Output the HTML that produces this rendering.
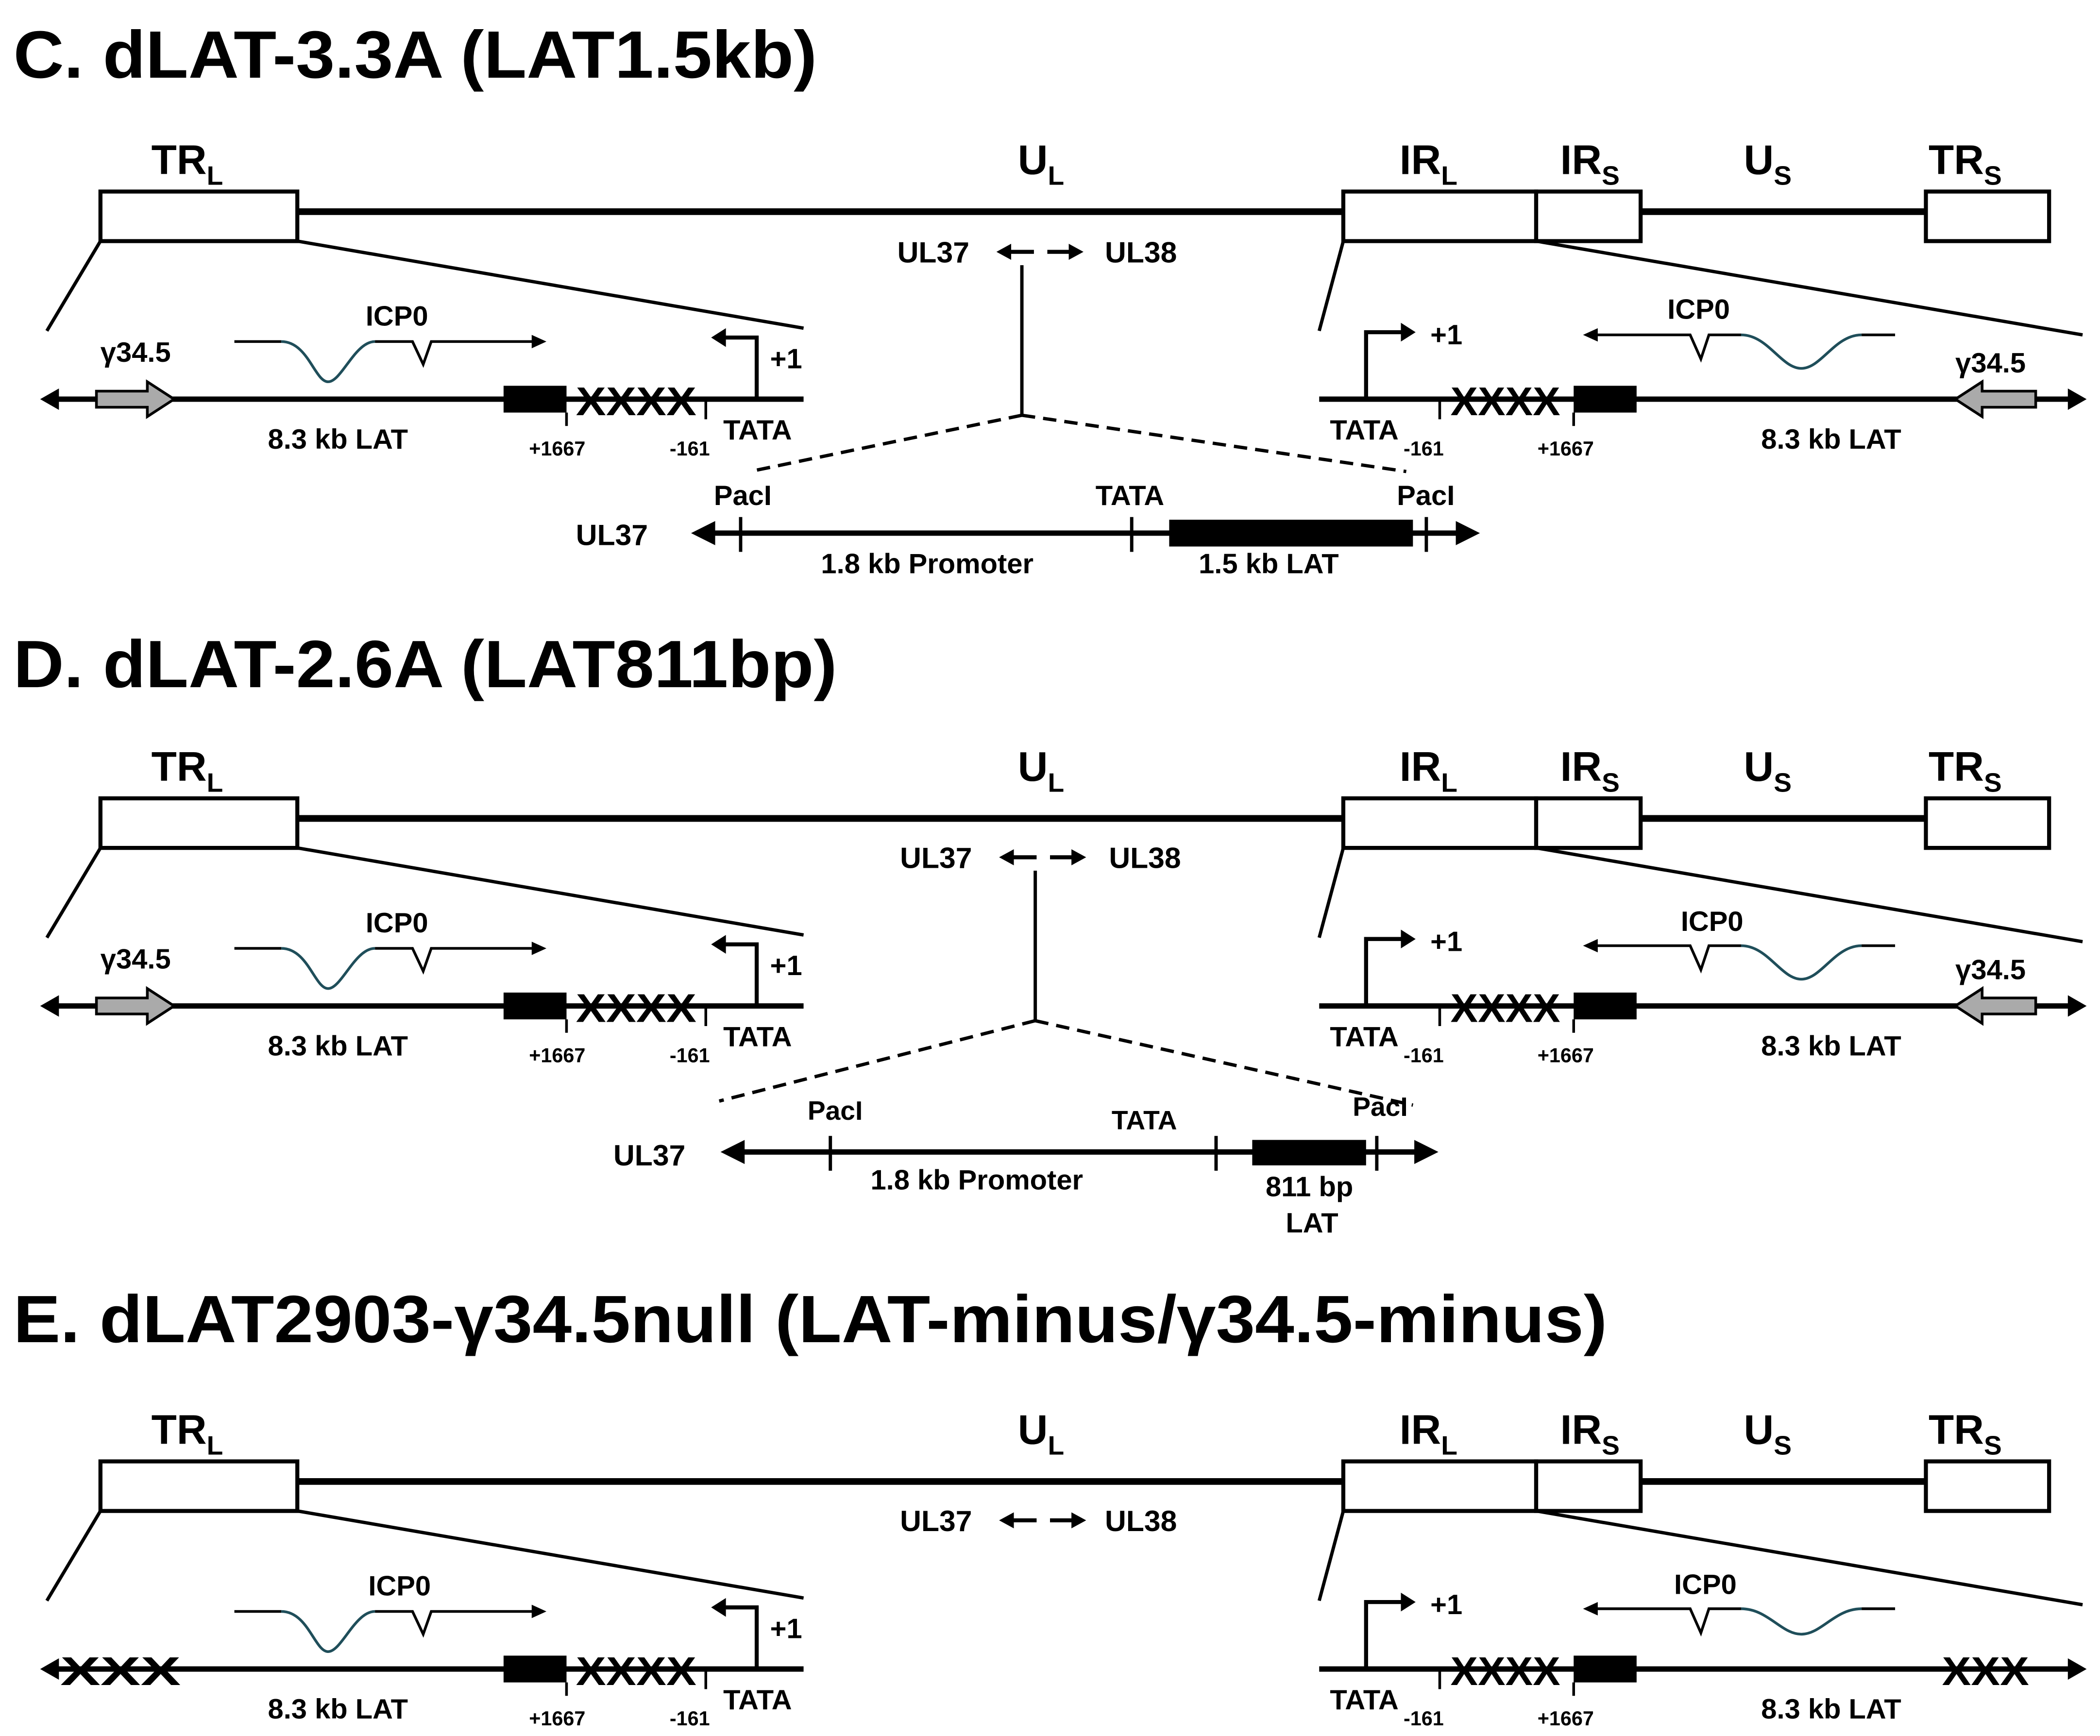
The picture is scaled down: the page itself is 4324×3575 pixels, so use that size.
<!DOCTYPE html>
<html><head><meta charset="utf-8"><style>
html,body{margin:0;padding:0;background:#fff}
svg{display:block}
text{font-family:"Liberation Sans",sans-serif;font-weight:bold;fill:#000}
.t{font-size:50px}.L{font-size:31px}.s{font-size:20px}.m{font-size:21px}.x{font-size:15px}.X{font-size:30px}.u{font-size:22px}
.b{fill:#fff;stroke:#000;stroke-width:3}
.k{stroke:#000;fill:none}
</style></head><body>
<svg width="4324" height="3575" viewBox="0 0 1568 1296" preserveAspectRatio="none" xmlns="http://www.w3.org/2000/svg">
<rect width="1568" height="1296" fill="#fff"/>

<text x="10" y="58" class="t" textLength="600" lengthAdjust="spacingAndGlyphs">C. dLAT-3.3A (LAT1.5kb)</text>
<text x="10" y="513" class="t" textLength="615" lengthAdjust="spacingAndGlyphs">D. dLAT-2.6A (LAT811bp)</text>
<text x="10" y="1002" class="t" textLength="1190" lengthAdjust="spacingAndGlyphs">E. dLAT2903-γ34.5null (LAT-minus/γ34.5-minus)</text>

<!-- ================= SECTION C ================= -->
<g transform="translate(0,0)">
<text x="113" y="130" class="L">TR<tspan class="s" dy="8">L</tspan></text>
<text x="760" y="130" class="L">U<tspan class="s" dy="8">L</tspan></text>
<text x="1045" y="130" class="L">IR<tspan class="s" dy="8">L</tspan></text>
<text x="1165" y="130" class="L">IR<tspan class="s" dy="8">S</tspan></text>
<text x="1302" y="130" class="L">U<tspan class="s" dy="8">S</tspan></text>
<text x="1440" y="130" class="L">TR<tspan class="s" dy="8">S</tspan></text>
<line x1="222" y1="158" x2="1003" y2="158" class="k" stroke-width="5"/>
<line x1="1225" y1="158" x2="1438" y2="158" class="k" stroke-width="5"/>
<rect x="75" y="143" width="147" height="37" class="b"/>
<rect x="1003" y="143" width="144" height="37" class="b"/>
<rect x="1147" y="143" width="78" height="37" class="b"/>
<rect x="1438" y="143" width="92" height="37" class="b"/>
<g class="k" stroke-width="2.5"><line x1="75" y1="180" x2="35" y2="247"/><line x1="222" y1="180" x2="600" y2="245"/><line x1="1003" y1="180" x2="985" y2="247"/><line x1="1147" y1="180" x2="1555" y2="250"/></g>
<text x="670" y="196" class="u">UL37</text><text x="825" y="196" class="u">UL38</text>
<line x1="752" y1="188" x2="772" y2="188" class="k" stroke-width="3"/><polygon points="744,188 755,182 755,194"/>
<line x1="782" y1="188" x2="800" y2="188" class="k" stroke-width="3"/><polygon points="809,188 798,182 798,194"/>
</g>

<g transform="translate(0,0)">
<line x1="40" y1="298" x2="600" y2="298" class="k" stroke-width="4"/><polygon points="30,298 44,290 44,306"/>
<polygon points="72,292 110,292 110,285 130,298 110,311 110,304 72,304" fill="#aaa" stroke="#000" stroke-width="2"/>
<rect x="376" y="288" width="47" height="20"/>
<text x="430" y="310" class="X" textLength="90" lengthAdjust="spacingAndGlyphs">XXXX</text>
<line x1="423" y1="308" x2="423" y2="318" class="k" stroke-width="2"/><line x1="527" y1="298" x2="527" y2="313" class="k" stroke-width="2"/>
<path d="M565,298 V252 H540" class="k" stroke-width="3"/><polygon points="531,252 542,245 542,259"/>
<text x="575" y="275" class="m">+1</text><text x="540" y="328" class="m">TATA</text><text x="500" y="340" class="x">-161</text><text x="395" y="340" class="x">+1667</text>
<text x="200" y="335" class="m">8.3 kb LAT</text><text x="75" y="270" class="m" font-weight="normal">γ34.5</text>
<text x="273" y="243" class="m" font-weight="normal">ICP0</text>
<path d="M175,255 H210" class="k" stroke-width="2"/><path d="M210,255 C230,255 235,285 245,285 C255,285 265,255 280,255" fill="none" stroke="#1f4e5a" stroke-width="2"/>
<path d="M280,255 H308 L316,272 L322,255 H400" class="k" stroke-width="2"/><polygon points="408,255 397,250 397,260"/>
<line x1="985" y1="298" x2="1548" y2="298" class="k" stroke-width="4"/><polygon points="1558,298 1544,290 1544,306"/>
<path d="M1020,298 V248 H1048" class="k" stroke-width="3"/><polygon points="1057,248 1046,241 1046,255"/>
<text x="1068" y="257" class="m">+1</text>
<line x1="1075" y1="298" x2="1075" y2="313" class="k" stroke-width="2"/>
<text x="1083" y="310" class="X" textLength="82" lengthAdjust="spacingAndGlyphs">XXXX</text>
<rect x="1175" y="288" width="47" height="20"/><line x1="1175" y1="308" x2="1175" y2="318" class="k" stroke-width="2"/>
<text x="993" y="328" class="m">TATA</text><text x="1048" y="340" class="x">-161</text><text x="1148" y="340" class="x">+1667</text>
<text x="1315" y="335" class="m">8.3 kb LAT</text><text x="1460" y="278" class="m" font-weight="normal">γ34.5</text>
<polygon points="1460,298 1480,285 1480,292 1520,292 1520,304 1480,304 1480,311" fill="#aaa" stroke="#000" stroke-width="2"/>
<text x="1245" y="238" class="m" font-weight="normal">ICP0</text>
<path d="M1190,250 H1262 L1270,268 L1276,250 H1300" class="k" stroke-width="2"/><polygon points="1182,250 1193,245 1193,255"/>
<path d="M1300,250 C1320,250 1330,275 1345,275 C1360,275 1370,250 1390,250" fill="none" stroke="#1f4e5a" stroke-width="2"/><path d="M1390,250 H1415" class="k" stroke-width="2"/>
</g>
<line x1="763" y1="198" x2="763" y2="310" class="k" stroke-width="2.5"/>
<path d="M763,310 L560,352 M763,310 L1050,352" class="k" stroke-width="2.5" stroke-dasharray="10,6"/>
<text x="430" y="407" class="u">UL37</text>
<line x1="530" y1="398" x2="1090" y2="398" class="k" stroke-width="4"/><polygon points="516,398 534,389 534,407"/><polygon points="1105,398 1087,389 1087,407"/>
<rect x="873" y="388" width="182" height="20"/>
<g class="k" stroke-width="2.5"><line x1="553" y1="386" x2="553" y2="412"/><line x1="845" y1="386" x2="845" y2="412"/><line x1="1065" y1="386" x2="1065" y2="412"/></g>
<text x="533" y="377" class="m">PacI</text><text x="818" y="377" class="m">TATA</text><text x="1043" y="377" class="m">PacI</text>
<text x="613" y="428" class="m">1.8 kb Promoter</text><text x="895" y="428" class="m">1.5 kb LAT</text>

<!-- ================= SECTION D ================= -->
<g transform="translate(0,453)">
<text x="113" y="130" class="L">TR<tspan class="s" dy="8">L</tspan></text>
<text x="760" y="130" class="L">U<tspan class="s" dy="8">L</tspan></text>
<text x="1045" y="130" class="L">IR<tspan class="s" dy="8">L</tspan></text>
<text x="1165" y="130" class="L">IR<tspan class="s" dy="8">S</tspan></text>
<text x="1302" y="130" class="L">U<tspan class="s" dy="8">S</tspan></text>
<text x="1440" y="130" class="L">TR<tspan class="s" dy="8">S</tspan></text>
<line x1="222" y1="158" x2="1003" y2="158" class="k" stroke-width="5"/>
<line x1="1225" y1="158" x2="1438" y2="158" class="k" stroke-width="5"/>
<rect x="75" y="143" width="147" height="37" class="b"/>
<rect x="1003" y="143" width="144" height="37" class="b"/>
<rect x="1147" y="143" width="78" height="37" class="b"/>
<rect x="1438" y="143" width="92" height="37" class="b"/>
<g class="k" stroke-width="2.5"><line x1="75" y1="180" x2="35" y2="247"/><line x1="222" y1="180" x2="600" y2="245"/><line x1="1003" y1="180" x2="985" y2="247"/><line x1="1147" y1="180" x2="1555" y2="250"/></g>
<text x="672" y="195" class="u">UL37</text><text x="828" y="195" class="u">UL38</text>
<line x1="754" y1="187" x2="774" y2="187" class="k" stroke-width="3"/><polygon points="746,187 757,181 757,193"/>
<line x1="784" y1="187" x2="802" y2="187" class="k" stroke-width="3"/><polygon points="811,187 800,181 800,193"/>
<line x1="40" y1="298" x2="600" y2="298" class="k" stroke-width="4"/><polygon points="30,298 44,290 44,306"/>
<polygon points="72,292 110,292 110,285 130,298 110,311 110,304 72,304" fill="#aaa" stroke="#000" stroke-width="2"/>
<rect x="376" y="288" width="47" height="20"/>
<text x="430" y="310" class="X" textLength="90" lengthAdjust="spacingAndGlyphs">XXXX</text>
<line x1="423" y1="308" x2="423" y2="318" class="k" stroke-width="2"/><line x1="527" y1="298" x2="527" y2="313" class="k" stroke-width="2"/>
<path d="M565,298 V252 H540" class="k" stroke-width="3"/><polygon points="531,252 542,245 542,259"/>
<text x="575" y="275" class="m">+1</text><text x="540" y="328" class="m">TATA</text><text x="500" y="340" class="x">-161</text><text x="395" y="340" class="x">+1667</text>
<text x="200" y="335" class="m">8.3 kb LAT</text><text x="75" y="270" class="m" font-weight="normal">γ34.5</text>
<text x="273" y="243" class="m" font-weight="normal">ICP0</text>
<path d="M175,255 H210" class="k" stroke-width="2"/><path d="M210,255 C230,255 235,285 245,285 C255,285 265,255 280,255" fill="none" stroke="#1f4e5a" stroke-width="2"/>
<path d="M280,255 H308 L316,272 L322,255 H400" class="k" stroke-width="2"/><polygon points="408,255 397,250 397,260"/>
<line x1="985" y1="298" x2="1548" y2="298" class="k" stroke-width="4"/><polygon points="1558,298 1544,290 1544,306"/>
<path d="M1020,298 V248 H1048" class="k" stroke-width="3"/><polygon points="1057,248 1046,241 1046,255"/>
<text x="1068" y="257" class="m">+1</text>
<line x1="1075" y1="298" x2="1075" y2="313" class="k" stroke-width="2"/>
<text x="1083" y="310" class="X" textLength="82" lengthAdjust="spacingAndGlyphs">XXXX</text>
<rect x="1175" y="288" width="47" height="20"/><line x1="1175" y1="308" x2="1175" y2="318" class="k" stroke-width="2"/>
<text x="993" y="328" class="m">TATA</text><text x="1048" y="340" class="x">-161</text><text x="1148" y="340" class="x">+1667</text>
<text x="1315" y="335" class="m">8.3 kb LAT</text><text x="1460" y="278" class="m" font-weight="normal">γ34.5</text>
<polygon points="1460,298 1480,285 1480,292 1520,292 1520,304 1480,304 1480,311" fill="#aaa" stroke="#000" stroke-width="2"/>
<text x="1255" y="242" class="m" font-weight="normal">ICP0</text>
<path d="M1190,253 H1262 L1270,271 L1276,253 H1300" class="k" stroke-width="2"/><polygon points="1182,253 1193,248 1193,258"/>
<path d="M1300,253 C1320,253 1330,278 1345,278 C1360,278 1370,253 1390,253" fill="none" stroke="#1f4e5a" stroke-width="2"/><path d="M1390,253 H1415" class="k" stroke-width="2"/>
</g>
<line x1="773" y1="650" x2="773" y2="762" class="k" stroke-width="2.5"/>
<path d="M773,762 L537,822 M773,762 L1055,825" class="k" stroke-width="2.5" stroke-dasharray="10,6"/>
<text x="458" y="870" class="u">UL37</text>
<line x1="552" y1="860" x2="1060" y2="860" class="k" stroke-width="4"/><polygon points="538,860 556,851 556,869"/><polygon points="1074,860 1056,851 1056,869"/>
<rect x="935" y="851" width="85" height="19"/>
<g class="k" stroke-width="2.5"><line x1="620" y1="848" x2="620" y2="874"/><line x1="908" y1="848" x2="908" y2="874"/><line x1="1028" y1="848" x2="1028" y2="874"/></g>
<text x="603" y="836" class="s" font-weight="normal">PacI</text><text x="830" y="843" class="s" font-weight="normal">TATA</text><text x="1010" y="833" class="s" font-weight="normal">PacI</text>
<text x="650" y="888" class="m">1.8 kb Promoter</text><text x="945" y="893" class="m">811 bp</text><text x="960" y="920" class="m">LAT</text>

<!-- ================= SECTION E ================= -->
<g transform="translate(0,948)">
<text x="113" y="130" class="L">TR<tspan class="s" dy="8">L</tspan></text>
<text x="760" y="130" class="L">U<tspan class="s" dy="8">L</tspan></text>
<text x="1045" y="130" class="L">IR<tspan class="s" dy="8">L</tspan></text>
<text x="1165" y="130" class="L">IR<tspan class="s" dy="8">S</tspan></text>
<text x="1302" y="130" class="L">U<tspan class="s" dy="8">S</tspan></text>
<text x="1440" y="130" class="L">TR<tspan class="s" dy="8">S</tspan></text>
<line x1="222" y1="158" x2="1003" y2="158" class="k" stroke-width="5"/>
<line x1="1225" y1="158" x2="1438" y2="158" class="k" stroke-width="5"/>
<rect x="75" y="143" width="147" height="37" class="b"/>
<rect x="1003" y="143" width="144" height="37" class="b"/>
<rect x="1147" y="143" width="78" height="37" class="b"/>
<rect x="1438" y="143" width="92" height="37" class="b"/>
<g class="k" stroke-width="2.5"><line x1="75" y1="180" x2="35" y2="247"/><line x1="222" y1="180" x2="600" y2="245"/><line x1="1003" y1="180" x2="985" y2="247"/><line x1="1147" y1="180" x2="1555" y2="250"/></g>
<text x="672" y="195" class="u">UL37</text><text x="825" y="195" class="u">UL38</text>
<line x1="754" y1="187" x2="774" y2="187" class="k" stroke-width="3"/><polygon points="746,187 757,181 757,193"/>
<line x1="784" y1="187" x2="802" y2="187" class="k" stroke-width="3"/><polygon points="811,187 800,181 800,193"/>
<line x1="40" y1="298" x2="600" y2="298" class="k" stroke-width="4"/><polygon points="30,298 44,290 44,306"/>
<text x="45" y="310" class="X" textLength="90" lengthAdjust="spacingAndGlyphs">XXX</text>
<rect x="376" y="288" width="47" height="20"/>
<text x="430" y="310" class="X" textLength="90" lengthAdjust="spacingAndGlyphs">XXXX</text>
<line x1="423" y1="308" x2="423" y2="318" class="k" stroke-width="2"/><line x1="527" y1="298" x2="527" y2="313" class="k" stroke-width="2"/>
<path d="M565,298 V252 H540" class="k" stroke-width="3"/><polygon points="531,252 542,245 542,259"/>
<text x="575" y="275" class="m">+1</text><text x="540" y="328" class="m">TATA</text><text x="500" y="340" class="x">-161</text><text x="395" y="340" class="x">+1667</text>
<text x="200" y="335" class="m">8.3 kb LAT</text>
<text x="275" y="243" class="m" font-weight="normal">ICP0</text>
<path d="M175,255 H210" class="k" stroke-width="2"/><path d="M210,255 C230,255 235,285 245,285 C255,285 265,255 280,255" fill="none" stroke="#1f4e5a" stroke-width="2"/>
<path d="M280,255 H308 L316,272 L322,255 H400" class="k" stroke-width="2"/><polygon points="408,255 397,250 397,260"/>
<line x1="985" y1="298" x2="1548" y2="298" class="k" stroke-width="4"/><polygon points="1558,298 1544,290 1544,306"/>
<path d="M1020,298 V248 H1048" class="k" stroke-width="3"/><polygon points="1057,248 1046,241 1046,255"/>
<text x="1068" y="257" class="m">+1</text>
<line x1="1075" y1="298" x2="1075" y2="313" class="k" stroke-width="2"/>
<text x="1083" y="310" class="X" textLength="82" lengthAdjust="spacingAndGlyphs">XXXX</text>
<rect x="1175" y="288" width="47" height="20"/><line x1="1175" y1="308" x2="1175" y2="318" class="k" stroke-width="2"/>
<text x="993" y="328" class="m">TATA</text><text x="1048" y="340" class="x">-161</text><text x="1148" y="340" class="x">+1667</text>
<text x="1315" y="335" class="m">8.3 kb LAT</text>
<text x="1450" y="310" class="X" textLength="65" lengthAdjust="spacingAndGlyphs">XXX</text>
<text x="1250" y="242" class="m" font-weight="normal">ICP0</text>
<path d="M1190,253 H1262 L1270,271 L1276,253 H1300" class="k" stroke-width="2"/><polygon points="1182,253 1193,248 1193,258"/>
<path d="M1300,253 C1320,253 1330,272 1345,272 C1360,272 1370,253 1390,253" fill="none" stroke="#1f4e5a" stroke-width="2"/><path d="M1390,253 H1415" class="k" stroke-width="2"/>
</g>
</svg>
</body></html>
